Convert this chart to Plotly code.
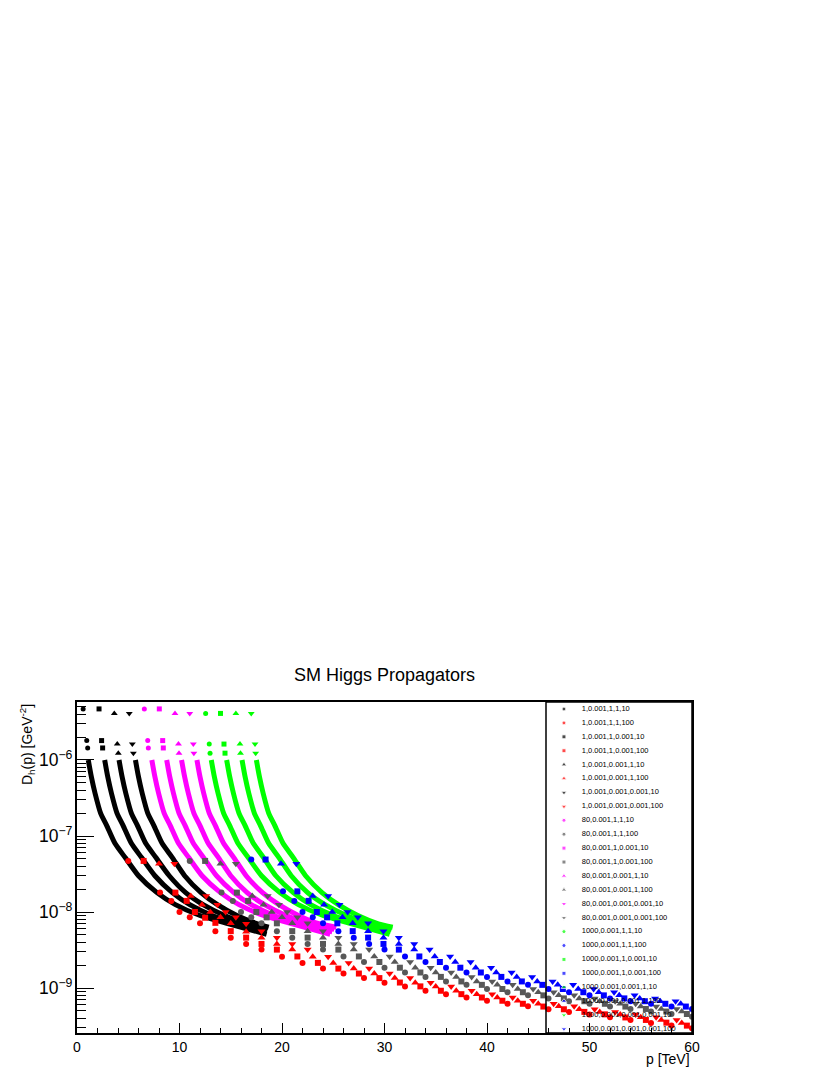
import plotly.graph_objects as go

# p [TeV] and D_h(p) [GeV^-2], one pair of lists per graph

# ---------------- m = 1 GeV ----------------
P01 = [0.6, 0.95, 1.04, 1.1, 1.4, 1.76, 2.3, 2.9, 3.7, 4.7, 6.0, 7.8, 9.6, 12.0, 14.8, 18.5]
D01 = [4.7e-6, 1.8e-6, 1.44e-6, 1e-6, 6e-7, 3.65e-7, 2e-7, 1.37e-7, 8e-8, 5.2e-8, 3e-8, 1.8e-8, 1.25e-8, 9e-9, 7e-9, 5.1e-9]

P02 = [5.0, 8.1, 9.2, 10.0, 11.0, 12.0, 13.5, 15.0, 16.5, 18.0, 20.0, 22.0, 24.0, 26.0, 28.0, 30.0, 32.0, 34.0,
       36.0, 38.0, 40.0, 42.0, 44.0, 46.0, 48.0, 50.0, 52.0, 54.0, 56.0, 58.0, 60.0]
D02 = [4.7e-8, 1.8e-8, 1.4e-8, 1.0e-8, 8.5e-9, 7.1e-9, 5.6e-9, 4.6e-9, 3.8e-9, 3.2e-9, 2.57e-9, 2.14e-9, 1.8e-9,
       1.55e-9, 1.35e-9, 1.17e-9, 1.05e-9, 9.2e-10, 8.3e-10, 7.5e-10, 6.8e-10, 6.2e-10, 5.75e-10, 5.25e-10,
       4.85e-10, 4.47e-10, 4.12e-10, 3.8e-10, 3.47e-10, 3.2e-10, 2.95e-10]

P03 = [2.15, 2.4, 2.5, 2.7, 3.0, 3.36, 3.9, 4.5, 5.3, 6.3, 7.6, 9.3, 11.0, 13.2, 15.7, 18.5]
D03 = [4.7e-6, 1.8e-6, 1.44e-6, 1e-6, 6e-7, 3.65e-7, 2e-7, 1.37e-7, 8e-8, 5.2e-8, 3e-8, 1.8e-8, 1.25e-8, 9e-9, 7e-9, 5.5e-9]

P04 = [6.5, 9.6, 10.7, 11.5, 12.5, 13.5, 15.0, 16.5, 18.0, 19.5, 21.5, 23.5, 25.5, 27.5, 29.5, 31.5, 33.5, 35.5,
       37.5, 39.5, 41.5, 43.5, 45.5, 47.5, 49.5, 51.5, 53.5, 55.5, 57.5, 59.5]
D04 = [4.7e-8, 1.8e-8, 1.4e-8, 1.0e-8, 8.4e-9, 7.2e-9, 5.6e-9, 4.6e-9, 3.8e-9, 3.2e-9, 2.6e-9, 2.14e-9, 1.8e-9,
       1.55e-9, 1.35e-9, 1.18e-9, 1.05e-9, 9.2e-10, 8.3e-10, 7.5e-10, 6.8e-10, 6.2e-10, 5.7e-10, 5.25e-10,
       4.85e-10, 4.5e-10, 4.1e-10, 3.8e-10, 3.5e-10, 3.2e-10]

P05 = [3.64, 3.93, 4.03, 4.1, 4.4, 4.76, 5.3, 5.9, 6.7, 7.7, 9.0, 10.6, 12.3, 14.4, 16.6, 18.6]
D05 = [4.1e-6, 1.62e-6, 1.23e-6, 1e-6, 6e-7, 3.65e-7, 2e-7, 1.37e-7, 8e-8, 5.2e-8, 3e-8, 1.8e-8, 1.25e-8, 9e-9, 7e-9, 5.9e-9]

P06 = [8.0, 11.1, 12.2, 13.0, 14.0, 15.0, 16.5, 18.0, 19.5, 21.0, 23.0, 25.0, 27.0, 29.0, 31.0, 33.0, 35.0, 37.0,
       39.0, 41.0, 43.0, 45.0, 47.0, 49.0, 51.0, 53.0, 55.0, 57.0, 59.0]
D06 = [4.3e-8, 1.62e-8, 1.25e-8, 1.0e-8, 8.5e-9, 7.1e-9, 5.5e-9, 4.6e-9, 3.8e-9, 3.2e-9, 2.57e-9, 2.14e-9, 1.8e-9,
       1.55e-9, 1.35e-9, 1.17e-9, 1.05e-9, 9.2e-10, 8.3e-10, 7.5e-10, 6.8e-10, 6.2e-10, 5.75e-10, 5.25e-10,
       4.85e-10, 4.47e-10, 4.12e-10, 3.8e-10, 3.47e-10]

P07 = [5.1, 5.4, 5.5, 5.7, 6.0, 6.36, 6.9, 7.5, 8.3, 9.3, 10.5, 12.1, 13.7, 15.6, 17.6, 18.7]
D07 = [4.1e-6, 1.62e-6, 1.23e-6, 1e-6, 6e-7, 3.65e-7, 2e-7, 1.37e-7, 8e-8, 5.2e-8, 3e-8, 1.8e-8, 1.25e-8, 9e-9, 7e-9, 6.3e-9]

P08 = [9.5, 12.6, 13.7, 14.5, 15.5, 16.5, 18.0, 19.5, 21.0, 22.5, 24.5, 26.5, 28.5, 30.5, 32.5, 34.5, 36.5, 38.5,
       40.5, 42.5, 44.5, 46.5, 48.5, 50.5, 52.5, 54.5, 56.5, 58.5]
D08 = [4.3e-8, 1.62e-8, 1.25e-8, 1.0e-8, 8.5e-9, 7.0e-9, 5.6e-9, 4.6e-9, 3.8e-9, 3.2e-9, 2.57e-9, 2.14e-9, 1.8e-9,
       1.55e-9, 1.35e-9, 1.17e-9, 1.05e-9, 9.2e-10, 8.3e-10, 7.5e-10, 6.8e-10, 6.2e-10, 5.75e-10, 5.25e-10,
       4.85e-10, 4.47e-10, 4.12e-10, 3.8e-10]

# ---------------- m = 80 GeV ----------------
P09 = [6.57, 6.9, 6.96, 7.3, 7.6, 7.96, 8.5, 9.1, 9.9, 10.9, 12.2, 14.0, 15.8, 18.2, 21.0, 24.7]
D09 = [4.7e-6, 1.8e-6, 1.44e-6, 1e-6, 6e-7, 3.65e-7, 2e-7, 1.37e-7, 8e-8, 5.2e-8, 3e-8, 1.8e-8, 1.25e-8, 9e-9, 7e-9, 5.1e-9]

P10 = [11.0, 14.1, 15.2, 16.0, 17.0, 18.0, 19.5, 21.0, 22.5, 24.0, 26.0, 28.0, 30.0, 32.0, 34.0, 36.0, 38.0, 40.0,
       42.0, 44.0, 46.0, 48.0, 50.0, 52.0, 54.0, 56.0, 58.0, 60.0]
D10 = [4.7e-8, 1.8e-8, 1.4e-8, 1.0e-8, 8.5e-9, 7.1e-9, 5.6e-9, 4.6e-9, 3.8e-9, 3.2e-9, 2.6e-9, 2.2e-9, 1.85e-9,
       1.6e-9, 1.4e-9, 1.22e-9, 1.1e-9, 9.7e-10, 8.8e-10, 8.0e-10, 7.3e-10, 6.7e-10, 6.2e-10, 5.7e-10,
       5.3e-10, 4.9e-10, 4.55e-10, 4.2e-10]

P11 = [8.03, 8.36, 8.42, 8.75, 9.05, 9.41, 9.95, 10.55, 11.35, 12.35, 13.6, 15.3, 17.0, 19.2, 21.8, 24.9]
D11 = [4.7e-6, 1.8e-6, 1.44e-6, 1e-6, 6e-7, 3.65e-7, 2e-7, 1.37e-7, 8e-8, 5.2e-8, 3e-8, 1.8e-8, 1.25e-8, 9e-9, 7e-9, 5.5e-9]

P12 = [12.5, 15.6, 16.7, 17.5, 18.5, 19.5, 21.0, 22.5, 24.0, 25.5, 27.5, 29.5, 31.5, 33.5, 35.5, 37.5, 39.5, 41.5,
       43.5, 45.5, 47.5, 49.5, 51.5, 53.5, 55.5, 57.5, 59.5]
D12 = [4.7e-8, 1.8e-8, 1.4e-8, 1.0e-8, 8.5e-9, 7.1e-9, 5.6e-9, 4.6e-9, 3.8e-9, 3.2e-9, 2.6e-9, 2.2e-9, 1.85e-9,
       1.6e-9, 1.4e-9, 1.22e-9, 1.1e-9, 9.7e-10, 8.8e-10, 8.0e-10, 7.3e-10, 6.7e-10, 6.2e-10, 5.7e-10,
       5.3e-10, 4.9e-10, 4.55e-10]

P13 = [9.56, 9.9, 9.95, 10.2, 10.5, 10.86, 11.4, 12.0, 12.8, 13.8, 15.0, 16.6, 18.3, 20.4, 22.7, 25.1]
D13 = [4.1e-6, 1.62e-6, 1.23e-6, 1e-6, 6e-7, 3.65e-7, 2e-7, 1.37e-7, 8e-8, 5.2e-8, 3e-8, 1.8e-8, 1.25e-8, 9e-9, 7e-9, 5.9e-9]

P14 = [14.0, 17.1, 18.2, 19.0, 20.0, 21.0, 22.5, 24.0, 25.5, 27.0, 29.0, 31.0, 33.0, 35.0, 37.0, 39.0, 41.0, 43.0,
       45.0, 47.0, 49.0, 51.0, 53.0, 55.0, 57.0, 59.0]
D14 = [4.3e-8, 1.62e-8, 1.25e-8, 1.0e-8, 8.5e-9, 7.1e-9, 5.6e-9, 4.6e-9, 3.8e-9, 3.2e-9, 2.6e-9, 2.2e-9, 1.85e-9,
       1.6e-9, 1.4e-9, 1.22e-9, 1.1e-9, 9.7e-10, 8.8e-10, 8.0e-10, 7.3e-10, 6.7e-10, 6.2e-10, 5.7e-10,
       5.3e-10, 4.9e-10]

P15 = [11.0, 11.35, 11.4, 11.7, 12.0, 12.36, 12.9, 13.5, 14.3, 15.3, 16.5, 18.1, 19.7, 21.6, 23.6, 25.3]
D15 = [4.1e-6, 1.62e-6, 1.23e-6, 1e-6, 6e-7, 3.65e-7, 2e-7, 1.37e-7, 8e-8, 5.2e-8, 3e-8, 1.8e-8, 1.25e-8, 9e-9, 7e-9, 6.3e-9]

P16 = [15.5, 18.6, 19.7, 20.5, 21.5, 22.5, 24.0, 25.5, 27.0, 28.5, 30.5, 32.5, 34.5, 36.5, 38.5, 40.5, 42.5, 44.5,
       46.5, 48.5, 50.5, 52.5, 54.5, 56.5, 58.5]
D16 = [4.3e-8, 1.62e-8, 1.25e-8, 1.0e-8, 8.5e-9, 7.1e-9, 5.6e-9, 4.6e-9, 3.8e-9, 3.2e-9, 2.6e-9, 2.2e-9, 1.85e-9,
       1.6e-9, 1.4e-9, 1.22e-9, 1.1e-9, 9.7e-10, 8.8e-10, 8.0e-10, 7.3e-10, 6.7e-10, 6.2e-10, 5.7e-10, 5.3e-10]

# ---------------- m = 1000 GeV ----------------
P17 = [12.55, 12.9, 12.98, 13.1, 13.4, 13.76, 14.3, 14.9, 15.7, 16.7, 18.0, 19.8, 21.6, 24.0, 26.8, 30.5]
D17 = [4.1e-6, 1.62e-6, 1.23e-6, 1e-6, 6e-7, 3.65e-7, 2e-7, 1.37e-7, 8e-8, 5.2e-8, 3e-8, 1.8e-8, 1.25e-8, 9e-9, 7e-9, 5.1e-9]

P18 = [17.0, 20.1, 21.2, 22.0, 23.0, 24.0, 25.5, 27.0, 28.5, 30.0, 32.0, 34.0, 36.0, 38.0, 40.0, 42.0, 44.0, 46.0,
       48.0, 50.0, 52.0, 54.0, 56.0, 58.0, 60.0]
D18 = [4.9e-8, 1.87e-8, 1.4e-8, 1.0e-8, 8.5e-9, 7.1e-9, 5.6e-9, 4.6e-9, 3.8e-9, 3.2e-9, 2.6e-9, 2.2e-9, 1.85e-9,
       1.6e-9, 1.4e-9, 1.22e-9, 1.1e-9, 9.7e-10, 8.8e-10, 8.0e-10, 7.3e-10, 6.7e-10, 6.2e-10, 5.7e-10, 5.3e-10]

P19 = [14.0, 14.34, 14.44, 14.6, 14.9, 15.26, 15.8, 16.4, 17.2, 18.2, 19.4, 21.1, 22.8, 25.0, 27.6, 30.6]
D19 = [4.1e-6, 1.62e-6, 1.23e-6, 1e-6, 6e-7, 3.65e-7, 2e-7, 1.37e-7, 8e-8, 5.2e-8, 3e-8, 1.8e-8, 1.25e-8, 9e-9, 7e-9, 5.5e-9]

P20 = [18.4, 21.5, 22.6, 23.4, 24.4, 25.4, 26.9, 28.4, 29.9, 31.4, 33.4, 35.4, 37.4, 39.4, 41.4, 43.4, 45.4, 47.4,
       49.4, 51.4, 53.4, 55.4, 57.4, 59.4]
D20 = [4.9e-8, 1.87e-8, 1.4e-8, 1.0e-8, 8.5e-9, 7.1e-9, 5.6e-9, 4.6e-9, 3.8e-9, 3.2e-9, 2.6e-9, 2.2e-9, 1.85e-9,
       1.6e-9, 1.4e-9, 1.22e-9, 1.1e-9, 9.7e-10, 8.8e-10, 8.0e-10, 7.3e-10, 6.7e-10, 6.2e-10, 5.7e-10]

P21 = [15.5, 15.9, 15.95, 16.1, 16.4, 16.76, 17.3, 17.9, 18.7, 19.7, 20.9, 22.5, 24.2, 26.3, 28.6, 30.7]
D21 = [4.1e-6, 1.62e-6, 1.23e-6, 1e-6, 6e-7, 3.65e-7, 2e-7, 1.37e-7, 8e-8, 5.2e-8, 3e-8, 1.8e-8, 1.25e-8, 9e-9, 7e-9, 5.9e-9]

P22 = [19.9, 23.0, 24.1, 24.9, 25.9, 26.9, 28.4, 29.9, 31.4, 32.9, 34.9, 36.9, 38.9, 40.9, 42.9, 44.9, 46.9, 48.9,
       50.9, 52.9, 54.9, 56.9, 58.9]
D22 = [4.3e-8, 1.62e-8, 1.25e-8, 1.0e-8, 8.5e-9, 7.1e-9, 5.6e-9, 4.6e-9, 3.8e-9, 3.2e-9, 2.6e-9, 2.2e-9, 1.85e-9,
       1.6e-9, 1.4e-9, 1.22e-9, 1.1e-9, 9.7e-10, 8.8e-10, 8.0e-10, 7.3e-10, 6.7e-10, 6.2e-10]

P23 = [17.0, 17.37, 17.43, 17.5, 17.8, 18.16, 18.7, 19.3, 20.1, 21.1, 22.3, 23.9, 25.5, 27.4, 29.4, 30.8]
D23 = [4.1e-6, 1.62e-6, 1.23e-6, 1e-6, 6e-7, 3.65e-7, 2e-7, 1.37e-7, 8e-8, 5.2e-8, 3e-8, 1.8e-8, 1.25e-8, 9e-9, 7e-9, 6.3e-9]

P24 = [21.4, 24.5, 25.6, 26.4, 27.4, 28.4, 29.9, 31.4, 32.9, 34.4, 36.4, 38.4, 40.4, 42.4, 44.4, 46.4, 48.4, 50.4,
       52.4, 54.4, 56.4, 58.4]
D24 = [4.3e-8, 1.62e-8, 1.25e-8, 1.0e-8, 8.5e-9, 7.1e-9, 5.6e-9, 4.6e-9, 3.8e-9, 3.2e-9, 2.6e-9, 2.2e-9, 1.85e-9,
       1.6e-9, 1.4e-9, 1.22e-9, 1.1e-9, 9.7e-10, 8.8e-10, 8.0e-10, 7.3e-10, 6.7e-10]

NAMES = ["1,0.001,1,1,10", "1,0.001,1,1,100", "1,0.001,1,0.001,10", "1,0.001,1,0.001,100",
         "1,0.001,0.001,1,10", "1,0.001,0.001,1,100", "1,0.001,0.001,0.001,10", "1,0.001,0.001,0.001,100",
         "80,0.001,1,1,10", "80,0.001,1,1,100", "80,0.001,1,0.001,10", "80,0.001,1,0.001,100",
         "80,0.001,0.001,1,10", "80,0.001,0.001,1,100", "80,0.001,0.001,0.001,10", "80,0.001,0.001,0.001,100",
         "1000,0.001,1,1,10", "1000,0.001,1,1,100", "1000,0.001,1,0.001,10", "1000,0.001,1,0.001,100",
         "1000,0.001,0.001,1,10", "1000,0.001,0.001,1,100", "1000,0.001,0.001,0.001,10", "1000,0.001,0.001,0.001,100"]

P_LISTS = [P01, P02, P03, P04, P05, P06, P07, P08, P09, P10, P11, P12,
           P13, P14, P15, P16, P17, P18, P19, P20, P21, P22, P23, P24]
D_LISTS = [D01, D02, D03, D04, D05, D06, D07, D08, D09, D10, D11, D12,
           D13, D14, D15, D16, D17, D18, D19, D20, D21, D22, D23, D24]

# ROOT-like styling
GREY = "#585858"
COLORS = ["black", "red", "black", "red", "black", "red", "black", "red",
          "#ff00ff", GREY, "#ff00ff", GREY, "#ff00ff", GREY, "#ff00ff", GREY,
          "#00ff00", "blue", "#00ff00", "blue", "#00ff00", "blue", "#00ff00", "blue"]
SYMBOLS = ["circle", "circle", "square", "square", "triangle-up", "triangle-up", "triangle-down", "triangle-down"] * 3
SIZES = {"circle": 6, "square": 6, "triangle-up": 7, "triangle-down": 7}

FONT = "Liberation Sans, Arial, Helvetica, sans-serif"

# the page body has an 8px margin, so the figure is laid out 8px up/left of the target pixels
W, H = 814, 1067
ML, MR, MT, MB = 69, 130, 694, 42

fig = go.Figure()

for name, px, dy, col, sym in zip(NAMES, P_LISTS, D_LISTS, COLORS, SYMBOLS):
    if name.endswith(",10"):
        # dense part drawn as a thick band, the first isolated points as markers
        fig.add_trace(go.Scatter(x=px[3:], y=dy[3:], mode="lines", name=name,
                                 line=dict(color=col, width=5, shape="spline", smoothing=0.6),
                                 hoverinfo="skip"))
        fig.add_trace(go.Scatter(x=px[:3], y=dy[:3], mode="markers", name=name,
                                 marker=dict(color=col, symbol=sym, size=SIZES[sym] - 1)))
    else:
        fig.add_trace(go.Scatter(x=px, y=dy, mode="markers", name=name,
                                 marker=dict(color=col, symbol=sym, size=SIZES[sym])))

# hand-made legend box (ROOT TLegend look)
rows = list(range(len(NAMES)))
fig.add_trace(go.Scatter(x=[0.123] * len(rows), y=rows, mode="markers", xaxis="x2", yaxis="y2",
                         marker=dict(color=COLORS, symbol=SYMBOLS, size=[SIZES[s] - 2 for s in SYMBOLS]),
                         hoverinfo="skip"))
fig.add_trace(go.Scatter(x=[0.245] * len(rows), y=rows, mode="text", xaxis="x2", yaxis="y2",
                         text=NAMES, textposition="middle right",
                         textfont=dict(family=FONT, size=7.5, color="black"), hoverinfo="skip"))

LEG_X0 = (546 - 77) / 615

fig.update_layout(
    width=W, height=H, autosize=False,
    margin=dict(l=ML, r=MR, t=MT, b=MB, pad=0),
    paper_bgcolor="white", plot_bgcolor="rgba(0,0,0,0)",
    showlegend=False,
    font=dict(family=FONT, color="black", size=14),
    title=dict(text="SM Higgs Propagators", x=0.5, xref="paper", xanchor="center",
               y=1 - 667 / H, yref="container", yanchor="middle",
               font=dict(family=FONT, size=18, color="black")),
    xaxis=dict(range=[0, 60], dtick=10, ticks="inside", ticklen=10, tickwidth=1, tickcolor="black",
               showline=True, linecolor="black", linewidth=1.5, mirror=True,
               showgrid=False, zeroline=False, tickfont=dict(size=14),
               minor=dict(dtick=2, ticks="inside", ticklen=5, tickcolor="black", showgrid=False)),
    yaxis=dict(type="log", range=[-9.592, -5.237], dtick=1, exponentformat="power",
               ticks="inside", ticklen=17, tickwidth=1, tickcolor="black",
               showline=True, linecolor="black", linewidth=1.5, mirror=True,
               showgrid=False, zeroline=False, tickfont=dict(size=14),
               minor=dict(dtick="D1", ticks="inside", ticklen=9, tickcolor="black", showgrid=False)),
    xaxis2=dict(domain=[LEG_X0, 1], range=[0, 1], anchor="y2", visible=False),
    yaxis2=dict(domain=[0, 1], range=[23.29, -0.503], anchor="x2", visible=False),
    shapes=[dict(type="rect", xref="paper", yref="paper", x0=LEG_X0, x1=1, y0=0, y1=1,
                 line=dict(color="black", width=1.5), fillcolor="rgba(0,0,0,0)")],
    annotations=[
        dict(text="D<sub>h</sub>(p) [GeV<sup>-2</sup>]", textangle=-90, showarrow=False,
             xref="paper", yref="paper", x=(27 - 77) / 615, y=(1033 - 745) / 331,
             xanchor="center", yanchor="middle", font=dict(size=14)),
        dict(text="p [TeV]", showarrow=False, xref="paper", yref="paper",
             x=1, y=(1033 - 1059) / 331, xanchor="right", yanchor="middle", font=dict(size=14)),
    ],
)

fig.write_html("out.html")
